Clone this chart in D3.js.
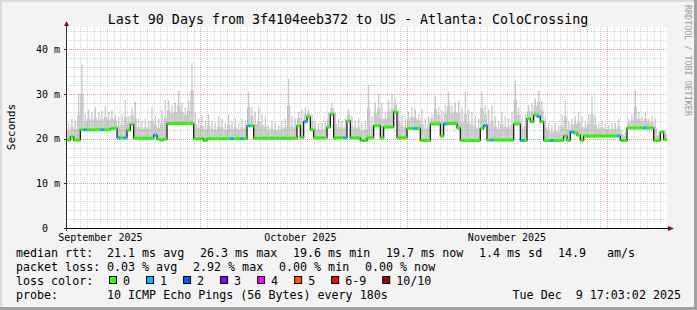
<!DOCTYPE html>
<html>
<head>
<meta charset="utf-8">
<script src="https://cdn.jsdelivr.net/npm/d3@7"></script>
<style>
  html, body { margin: 0; padding: 0; background: #f3f3f3; }
  svg { display: block; }
  text { font-family: "DejaVu Sans Mono", monospace; fill: #000; white-space: pre; }
</style>
</head>
<body>
<div id="chart"></div>
<script>
// time range of the graph, one bucket = 12 hours
const startTime = Date.UTC(2025, 8, 11);
const endTime = Date.UTC(2025, 11, 10);
const bucketHours = 12;

// median rtt per bucket (ms)
const medianMs = [
  19.7, 20.4, 19.7, 19.7, 22.0, 22.0, 22.0, 22.0, 22.0, 22.0,
  22.0, 22.0, 22.0, 22.3, 22.3, 20.2, 20.2, 20.2, 21.9, 23.2,
  20.1, 20.1, 20.1, 20.1, 20.1, 20.1, 20.8, 19.9, 19.7, 19.9,
  23.4, 23.4, 23.4, 23.4, 23.4, 23.4, 23.4, 23.4, 20.0, 20.0,
  20.0, 19.6, 20.0, 20.0, 20.0, 20.0, 20.0, 20.0, 20.0, 20.0,
  20.0, 20.0, 20.0, 20.0, 22.9, 22.9, 20.1, 20.1, 20.1, 20.1,
  20.1, 20.1, 20.1, 20.1, 20.1, 20.1, 20.1, 20.1, 20.1, 22.9,
  20.3, 23.8, 24.9, 22.0, 20.2, 20.2, 20.2, 20.2, 22.6, 25.5,
  20.2, 20.2, 20.2, 20.2, 24.0, 20.2, 20.2, 20.2, 19.6, 19.6,
  20.2, 20.2, 22.9, 22.9, 20.2, 22.6, 22.6, 22.6, 26.0, 20.2,
  20.2, 20.2, 22.3, 22.3, 22.3, 22.3, 19.6, 19.6, 19.6, 23.3,
  23.3, 23.3, 20.6, 23.3, 23.4, 23.4, 23.4, 22.4, 19.6, 19.6,
  19.6, 19.6, 19.6, 19.6, 22.3, 22.9, 19.7, 19.7, 19.7, 19.7,
  19.7, 19.7, 19.7, 19.7, 23.3, 23.3, 19.6, 19.6, 24.5, 23.8,
  25.3, 25.0, 23.8, 19.6, 19.6, 19.6, 19.6, 19.6, 19.6, 20.6,
  19.6, 21.5, 21.3, 20.8, 19.6, 20.6, 20.6, 20.6, 20.6, 20.6,
  20.6, 20.6, 20.6, 20.6, 20.6, 20.6, 19.6, 19.6, 22.4, 22.4,
  22.4, 22.4, 22.4, 22.4, 22.4, 22.4, 19.6, 19.6, 21.5, 19.8
];

// highest ping per bucket (ms) - top of the smoke
const smokeTopMs = [
  23.5, 24.5, 24.0, 30.0, 36.6, 25.5, 26.5, 26.0, 27.0, 25.8,
  26.2, 27.2, 26.0, 26.4, 25.5, 25.0, 25.5, 28.6, 25.0, 27.0,
  28.2, 24.5, 24.0, 24.5, 24.0, 27.1, 25.0, 24.5, 26.5, 28.6,
  28.6, 27.5, 28.0, 30.8, 28.0, 27.0, 28.5, 37.0, 26.0, 24.5,
  25.3, 24.0, 25.5, 24.0, 23.5, 25.0, 24.5, 23.5, 25.5, 24.0,
  24.5, 23.5, 24.5, 24.0, 30.5, 27.0, 26.0, 27.0, 25.5, 25.0,
  23.0, 24.0, 23.5, 23.0, 24.0, 24.5, 33.4, 25.0, 24.5, 26.0,
  26.5, 27.0, 26.5, 25.5, 24.0, 23.5, 23.5, 24.0, 26.0, 28.0,
  26.0, 24.5, 24.0, 24.5, 26.5, 25.0, 24.0, 24.5, 23.5, 24.0,
  32.0, 25.0, 28.0, 30.0, 28.0, 26.0, 28.5, 30.0, 29.0, 26.5,
  25.0, 24.5, 26.0, 27.0, 26.5, 25.5, 26.5, 24.5, 25.0, 25.5,
  29.5, 27.0, 26.5, 27.5, 30.5, 27.5, 28.0, 28.5, 27.0, 30.5,
  26.5, 26.0, 25.0, 24.5, 30.5, 27.5, 26.5, 27.5, 25.0, 24.0,
  26.0, 25.0, 24.5, 26.0, 33.0, 27.0, 24.5, 25.5, 27.5, 28.0,
  29.0, 30.8, 28.5, 25.0, 23.5, 23.0, 23.5, 23.0, 25.5, 28.5,
  24.0, 24.5, 25.0, 26.0, 25.0, 24.0, 25.5, 29.5, 25.0, 23.5,
  24.0, 23.5, 23.0, 23.5, 23.5, 24.5, 22.0, 21.5, 24.5, 25.5,
  30.8, 26.0, 25.0, 26.0, 24.5, 25.0, 24.5, 21.5, 21.0, 22.0
];

// buckets where 1 of 10 pings was lost
const lossOneBuckets = [5, 10, 15, 17, 26, 49, 52, 54, 71, 83, 104, 113, 125, 127, 136, 141, 145, 151, 165, 173];

const yTicks = [0, 10, 20, 30, 40];
const yTickLabels = ["0  ", "10 m", "20 m", "30 m", "40 m"];
const monthLabelDates = [Date.UTC(2025, 8, 16), Date.UTC(2025, 9, 16), Date.UTC(2025, 10, 16)];
const monthLabels = ["September 2025", "October 2025", "November 2025"];

const title = "Last 90 Days from 3f4104eeb372 to US - Atlanta: ColoCrossing";

const rttLegend = ["median rtt:", "21.1 ms avg", "26.3 ms max", "19.6 ms min", "19.7 ms now", "1.4 ms sd", "14.9", "am/s"];
const lossLegend = ["packet loss:", "0.03 % avg", "2.92 % max", "0.00 % min", "0.00 % now"];
const lossColorLabels = ["0", "1", "2", "3", "4", "5", "6-9", "10/10"];
const lossColors = ["#26ff00", "#00b8ff", "#0059ff", "#7e00ff", "#ff00ff", "#ff5500", "#ff0000", "#a00000"];
const probeLegend = ["probe:", "10 ICMP Echo Pings (56 Bytes) every 180s"];
const stampText = "Tue Dec  9 17:03:02 2025";

// layout
const W = 697, H = 310;
const plot = { left: 67, right: 667, top: 27, bottom: 228 };

const svg = d3.select("#chart").append("svg")
  .attr("width", W)
  .attr("height", H);

// background + bevel frame
svg.append("rect").attr("width", W).attr("height", H).attr("fill", "#f3f3f3");
svg.append("rect").attr("x", 0).attr("y", 0).attr("width", W).attr("height", 2).attr("fill", "#dcdcdc");
svg.append("rect").attr("x", 0).attr("y", 0).attr("width", 2).attr("height", H).attr("fill", "#dcdcdc");
svg.append("rect").attr("x", W - 3).attr("y", 0).attr("width", 3).attr("height", H).attr("fill", "#a0a0a0");
svg.append("rect").attr("x", 0).attr("y", H - 3).attr("width", W).attr("height", 3).attr("fill", "#a0a0a0");

const x = d3.scaleUtc().domain([startTime, endTime]).range([plot.left, plot.right]);
const y = d3.scaleLinear().domain([0, 45]).range([plot.bottom, plot.top]);

const bucketTime = i => startTime + i * bucketHours * 3600 * 1000;
const bucketW = i => x(bucketTime(i + 1)) - x(bucketTime(i));

// canvas
svg.append("rect")
  .attr("x", plot.left).attr("y", plot.top)
  .attr("width", plot.right - plot.left).attr("height", plot.bottom - plot.top)
  .attr("fill", "#ffffff");

// smoke: dense body near the median, thin spike up to the highest ping
const smoke = svg.append("g").attr("fill", "#cbcbcb");
smoke.selectAll("rect.body")
  .data(smokeTopMs)
  .enter().append("rect")
  .attr("x", (d, i) => x(bucketTime(i)))
  .attr("width", (d, i) => bucketW(i))
  .attr("y", (d, i) => y(medianMs[i] + (d - medianMs[i]) * 0.55))
  .attr("height", (d, i) => y(medianMs[i] - 0.3) - y(medianMs[i] + (d - medianMs[i]) * 0.55));
smoke.selectAll("rect.spike")
  .data(smokeTopMs)
  .enter().append("rect")
  .attr("x", (d, i) => x(bucketTime(i)) + bucketW(i) * 0.3)
  .attr("width", 1.3)
  .attr("y", d => y(d))
  .attr("height", (d, i) => y(medianMs[i]) - y(d));

// grid
const grid = svg.append("g").attr("shape-rendering", "crispEdges");
const minorY = d3.range(2, 45, 2).filter(v => v % 10 !== 0);
grid.selectAll("line.hminor")
  .data(minorY)
  .enter().append("line")
  .attr("x1", plot.left).attr("x2", plot.right)
  .attr("y1", d => Math.round(y(d)) + 0.5).attr("y2", d => Math.round(y(d)) + 0.5)
  .attr("stroke", "rgba(143,143,143,0.38)")
  .attr("stroke-dasharray", "1,1");

const days = d3.utcDay.range(startTime + 1, endTime).filter(d => d.getUTCDate() !== 1);
grid.selectAll("line.vminor")
  .data(days)
  .enter().append("line")
  .attr("x1", d => Math.round(x(d)) + 0.5).attr("x2", d => Math.round(x(d)) + 0.5)
  .attr("y1", plot.top).attr("y2", plot.bottom)
  .attr("stroke", "rgba(143,143,143,0.38)")
  .attr("stroke-dasharray", "1,1");

grid.selectAll("line.hmajor")
  .data(yTicks.filter(v => v > 0))
  .enter().append("line")
  .attr("x1", plot.left).attr("x2", plot.right)
  .attr("y1", d => Math.round(y(d)) + 0.5).attr("y2", d => Math.round(y(d)) + 0.5)
  .attr("stroke", "rgba(222,48,48,0.45)")
  .attr("stroke-dasharray", "1,1");

grid.selectAll("line.vmajor")
  .data(d3.utcMonth.range(startTime, endTime))
  .enter().append("line")
  .attr("x1", d => Math.round(x(d)) + 0.5).attr("x2", d => Math.round(x(d)) + 0.5)
  .attr("y1", plot.top).attr("y2", plot.bottom)
  .attr("stroke", "rgba(222,48,48,0.45)")
  .attr("stroke-dasharray", "1,1");

// median line (black connector)
const medianPoints = medianMs.map((v, i) => [bucketTime(i), v]);
medianPoints.push([endTime, medianMs[medianMs.length - 1]]);
svg.append("path")
  .datum(medianPoints)
  .attr("fill", "none")
  .attr("stroke", "#111")
  .attr("stroke-width", 1.2)
  .attr("d", d3.line().curve(d3.curveStepAfter).x(d => x(d[0])).y(d => y(d[1])));

// loss coloured band on the median
svg.append("g").selectAll("rect")
  .data(medianMs)
  .enter().append("rect")
  .attr("x", (d, i) => x(bucketTime(i)))
  .attr("width", (d, i) => bucketW(i))
  .attr("y", d => y(d) - 1.5)
  .attr("height", 3)
  .attr("fill", (d, i) => lossOneBuckets.includes(i) ? lossColors[1] : lossColors[0]);

// axes
svg.append("line")
  .attr("x1", plot.left - 3).attr("x2", plot.right + 2)
  .attr("y1", plot.bottom + 0.5).attr("y2", plot.bottom + 0.5)
  .attr("stroke", "#111").attr("stroke-width", 1);
svg.append("line")
  .attr("x1", plot.left - 0.5).attr("x2", plot.left - 0.5)
  .attr("y1", plot.bottom + 3).attr("y2", plot.top - 2)
  .attr("stroke", "#333").attr("stroke-width", 1);
svg.append("polygon")
  .attr("points", `${plot.left - 3},${plot.top - 1} ${plot.left + 2},${plot.top - 1} ${plot.left - 0.5},${plot.top - 6}`)
  .attr("fill", "#7f1010");
svg.append("polygon")
  .attr("points", `${plot.right + 1},${plot.bottom - 2} ${plot.right + 1},${plot.bottom + 3} ${plot.right + 7},${plot.bottom + 0.5}`)
  .attr("fill", "#7f1010");

// y ticks and labels
svg.selectAll("line.ytick")
  .data(yTicks)
  .enter().append("line")
  .attr("x1", plot.left - 3).attr("x2", plot.left)
  .attr("y1", d => Math.round(y(d)) + 0.5).attr("y2", d => Math.round(y(d)) + 0.5)
  .attr("stroke", "#333");
svg.selectAll("text.ylab")
  .data(yTicks)
  .enter().append("text")
  .attr("x", 60)
  .attr("y", d => y(d) + 3.6)
  .attr("text-anchor", "end")
  .attr("font-size", "10px")
  .text((d, i) => yTickLabels[i]);

// x labels
svg.selectAll("text.xlab")
  .data(monthLabelDates)
  .enter().append("text")
  .attr("x", d => x(d))
  .attr("y", 240.5)
  .attr("text-anchor", "middle")
  .attr("font-size", "10px")
  .text((d, i) => monthLabels[i]);

// title, unit, watermark
svg.append("text")
  .attr("x", 348).attr("y", 24)
  .attr("text-anchor", "middle")
  .attr("font-size", "13.3px")
  .text(title);

svg.append("text")
  .attr("transform", "translate(15,127) rotate(-90)")
  .attr("text-anchor", "middle")
  .attr("font-size", "11px")
  .text("Seconds");

svg.append("text")
  .attr("transform", "translate(685,5) rotate(90)")
  .attr("font-size", "8.4px")
  .style("fill", "#9a9a9a")
  .text("RRDTOOL / TOBI OETIKER");

// legend
const legendFont = "11.67px";
const rowY = [257, 271, 285, 299];
const rttX = [16, 107, 200, 293, 386, 479, 558, 607];
const lossX = [16, 107, 193, 279, 365];

function legendRow(items, xs, yy) {
  svg.append("g").selectAll("text")
    .data(items)
    .enter().append("text")
    .attr("x", (d, i) => xs[i])
    .attr("y", yy)
    .attr("font-size", legendFont)
    .text(d => d);
}
legendRow(rttLegend, rttX, rowY[0]);
legendRow(lossLegend, lossX, rowY[1]);
legendRow(["loss color:"], [16], rowY[2]);
legendRow(probeLegend, [16, 107], rowY[3]);

svg.append("text")
  .attr("x", 681).attr("y", rowY[3])
  .attr("text-anchor", "end")
  .attr("font-size", legendFont)
  .text(stampText);

let sx = 109;
const swatches = lossColorLabels.map((label, i) => {
  const item = { label, color: lossColors[i], x: sx };
  sx += label.length * 7.03 + 30;
  return item;
});
const sw = svg.append("g").selectAll("g")
  .data(swatches)
  .enter().append("g");
sw.append("rect")
  .attr("x", d => d.x + 0.5).attr("y", rowY[2] - 8.5)
  .attr("width", 7).attr("height", 7)
  .attr("fill", d => d.color)
  .attr("stroke", "#000").attr("stroke-width", 1);
sw.append("text")
  .attr("x", d => d.x + 14).attr("y", rowY[2])
  .attr("font-size", legendFont)
  .text(d => d.label);
</script>
</body>
</html>
